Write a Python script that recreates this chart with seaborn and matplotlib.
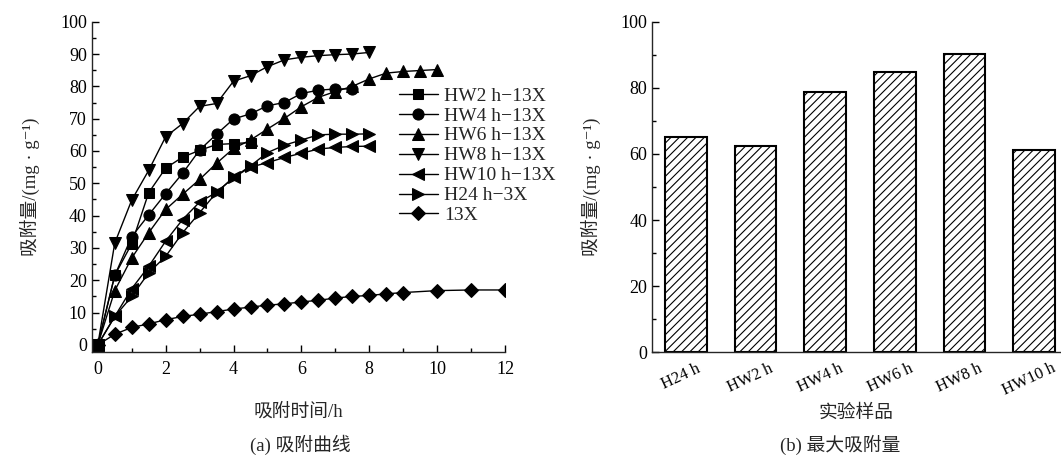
import matplotlib
matplotlib.use("Agg")
import matplotlib.pyplot as plt
import matplotlib.transforms as mtransforms
import seaborn as sns
from matplotlib.ticker import MultipleLocator

# ---- adsorption curves (time in h, uptake in mg/g) ----
t_hw2 = [0, 0.5, 1, 1.5, 2, 2.5, 3, 3.5, 4, 4.5]
q_hw2 = [0, 21.5, 31.3, 47.1, 54.7, 58.1, 60.2, 62.0, 62.3, 62.6]

t_hw4 = [0, 0.5, 1, 1.5, 2, 2.5, 3, 3.5, 4, 4.5, 5, 5.5, 6, 6.5, 7, 7.5]
q_hw4 = [0, 21.5, 33.5, 40.2, 46.8, 53.1, 60.3, 65.2, 69.9, 71.5, 74.0, 75.0,
         77.8, 78.8, 79.2, 79.2]

t_hw6 = [0, 0.5, 1, 1.5, 2, 2.5, 3, 3.5, 4, 4.5, 5, 5.5, 6, 6.5, 7, 7.5, 8,
         8.5, 9, 9.5, 10]
q_hw6 = [0, 16.8, 26.9, 34.7, 41.9, 46.6, 51.2, 56.2, 60.8, 63.4, 66.8, 70.1,
         73.7, 76.6, 78.4, 80.0, 82.3, 84.1, 84.6, 84.9, 85.2]

t_hw8 = [0, 0.5, 1, 1.5, 2, 2.5, 3, 3.5, 4, 4.5, 5, 5.5, 6, 6.5, 7, 7.5, 8]
q_hw8 = [0, 31.5, 44.8, 54.0, 64.4, 68.5, 73.8, 74.7, 81.6, 83.3, 86.1, 88.2,
         89.0, 89.5, 89.8, 90.0, 90.5]

t_hw10 = [0, 0.5, 1, 1.5, 2, 2.5, 3, 3.5, 4, 4.5, 5, 5.5, 6, 6.5, 7, 7.5, 8]
q_hw10 = [0, 8.8, 17.4, 24.3, 32.1, 38.8, 44.2, 47.2, 51.8, 55.0, 56.4, 58.0,
          59.3, 60.6, 61.1, 61.4, 61.5]

t_h24 = [0, 0.5, 1, 1.5, 2, 2.5, 3, 3.5, 4, 4.5, 5, 5.5, 6, 6.5, 7, 7.5, 8]
q_h24 = [0, 8.8, 15.0, 22.3, 27.4, 34.7, 40.9, 47.2, 51.8, 55.4, 59.5, 61.8,
         63.4, 65.0, 65.2, 65.2, 65.3]

t_13x = [0, 0.5, 1, 1.5, 2, 2.5, 3, 3.5, 4, 4.5, 5, 5.5, 6, 6.5, 7, 7.5, 8,
         8.5, 9, 10, 11, 12]
q_13x = [0, 3.3, 5.4, 6.5, 7.8, 8.8, 9.5, 10.3, 11.1, 11.7, 12.3, 12.7, 13.3,
         13.8, 14.5, 15.0, 15.3, 15.8, 16.2, 16.8, 17.0, 17.0]

series_labels = ["HW2 h\u221213X", "HW4 h\u221213X", "HW6 h\u221213X",
                 "HW8 h\u221213X", "HW10 h\u221213X", "H24 h\u22123X", "13X"]

# ---- maximum uptake per sample ----
samples = ["H24 h", "HW2 h", "HW4 h", "HW6 h", "HW8 h", "HW10 h"]
q_max = [65.0, 62.4, 78.8, 84.8, 90.3, 61.2]

sns.set_theme(style="ticks")
plt.rcParams["font.family"] = ["Liberation Serif", "Noto Sans CJK SC", "DejaVu Sans"]
plt.rcParams["hatch.linewidth"] = 0.8
plt.rcParams["axes.linewidth"] = 1.0

TICK_FS = 13
LABEL_FS = 13.5

fig = plt.figure(figsize=(10.61, 4.61), dpi=100)
ax1 = fig.add_axes([0.0864, 0.2371, 0.3896, 0.7158])
ax2 = fig.add_axes([0.6145, 0.2358, 0.3845, 0.7171])

curves = [
    (t_hw2, q_hw2, "s", 7),
    (t_hw4, q_hw4, "o", 8),
    (t_hw6, q_hw6, "^", 8.5),
    (t_hw8, q_hw8, "v", 8.5),
    (t_hw10, q_hw10, "<", 8.5),
    (t_h24, q_h24, ">", 8.5),
    (t_13x, q_13x, "D", 7),
]
for (t, q, m, ms), lab in zip(curves, series_labels):
    sns.lineplot(x=t, y=q, ax=ax1, color="black", marker=m, markersize=ms,
                 markeredgecolor="black", markerfacecolor="black",
                 linewidth=1.0, estimator=None, sort=False, label=lab)

ax1.set_xlim(-0.18, 12)
ax1.set_ylim(-2.1, 100)
ax1.xaxis.set_major_locator(MultipleLocator(2))
ax1.xaxis.set_minor_locator(MultipleLocator(1))
ax1.yaxis.set_major_locator(MultipleLocator(10))
ax1.yaxis.set_minor_locator(MultipleLocator(5))
ax1.tick_params(which="both", direction="in", colors="black", labelsize=TICK_FS)
ax1.tick_params(which="major", length=5, width=1.0)
ax1.tick_params(which="minor", length=3, width=1.0)
ax1.tick_params(axis="x", pad=7)
for s in ("top", "right"):
    ax1.spines[s].set_visible(False)
ax1.set_xlabel("吸附时间/h", fontsize=LABEL_FS, labelpad=18)
ax1.set_ylabel("吸附量/(mg · g⁻¹)", fontsize=LABEL_FS, labelpad=14)

handles, labels = ax1.get_legend_handles_labels()
ax1.legend(handles, labels, loc="upper left",
           bbox_to_anchor=(399 / 1061, 1 - 87 / 461),
           bbox_transform=fig.transFigure, frameon=False, fontsize=14,
           handlelength=2.0, handletextpad=0.3, labelspacing=0.12,
           borderpad=0, borderaxespad=0)

sns.barplot(x=samples, y=q_max, ax=ax2, color="white", edgecolor="black",
            linewidth=1.5, width=0.6, hatch="////", saturation=1)
for p in ax2.patches:
    p.set_facecolor("white")
ax2.set_xlim(-0.486, 5.37)
ax2.set_ylim(0, 100)
ax2.yaxis.set_major_locator(MultipleLocator(20))
ax2.yaxis.set_minor_locator(MultipleLocator(10))
ax2.tick_params(which="both", direction="in", colors="black", labelsize=TICK_FS)
ax2.tick_params(which="major", length=5, width=1.0)
ax2.tick_params(which="minor", length=3, width=1.0)
ax2.tick_params(axis="x", length=4, pad=6, labelsize=12)
# rotated sample names, nudged slightly left of their ticks
shift = mtransforms.ScaledTranslation(-5 / 100, 0, fig.dpi_scale_trans)
for lbl in ax2.get_xticklabels():
    lbl.set_rotation(25)
    lbl.set_ha("center")
    lbl.set_transform(lbl.get_transform() + shift)
for s in ("top", "right"):
    ax2.spines[s].set_visible(False)
ax2.set_xlabel("实验样品", fontsize=LABEL_FS, labelpad=4)
ax2.set_ylabel("吸附量/(mg · g⁻¹)", fontsize=LABEL_FS, labelpad=14)

fig.text(300 / 1061, 1 - 445 / 461, "(a) 吸附曲线", ha="center", va="center",
         fontsize=LABEL_FS)
fig.text(840 / 1061, 1 - 445 / 461, "(b) 最大吸附量", ha="center", va="center",
         fontsize=LABEL_FS)

fig.savefig("out.png", dpi=100, facecolor="white")
